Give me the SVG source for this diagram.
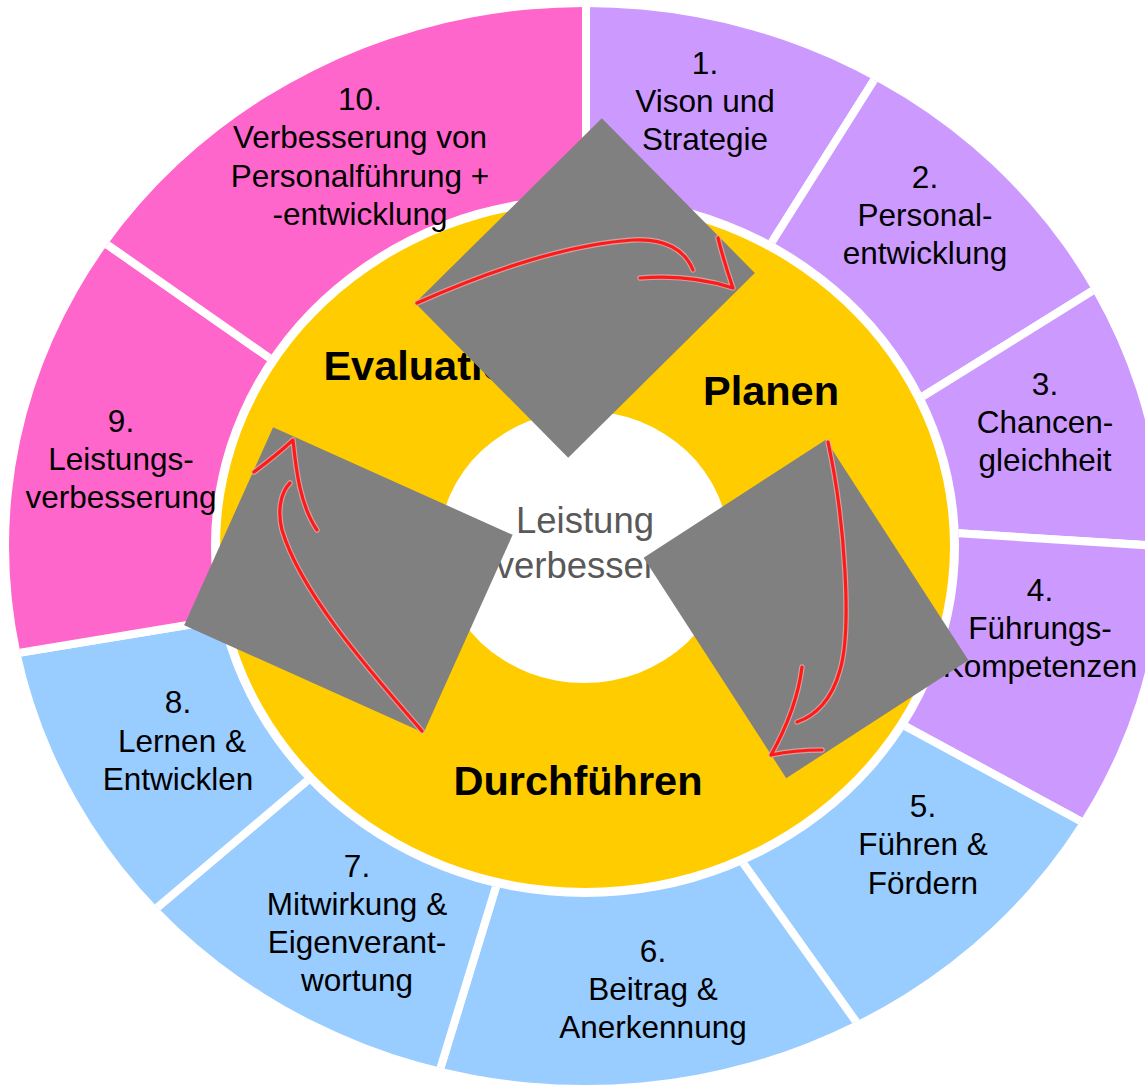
<svg xmlns="http://www.w3.org/2000/svg" width="1145" height="1085" viewBox="0 0 1145 1085">
<style>
.lbl{font-family:"Liberation Sans",Arial,sans-serif;font-size:31.5px;fill:#000;text-anchor:middle}
.phase{font-family:"Liberation Sans",Arial,sans-serif;font-size:41.5px;font-weight:bold;fill:#000}
.core{font-family:"Liberation Sans",Arial,sans-serif;font-size:36.5px;fill:#595959;text-anchor:middle}
.seg{stroke:#fff;stroke-width:8;stroke-linejoin:miter}
.purple{fill:#CC99FF}
.blue{fill:#99CCFF}
.pink{fill:#FF66CC}
.card{fill:#808080}
.halo{fill:none;stroke:#e7a9a9;stroke-width:5.5;stroke-linecap:round;stroke-linejoin:round;stroke-opacity:0.8}
.ink{fill:none;stroke:#ff1a1a;stroke-width:3.2;stroke-linecap:round;stroke-linejoin:round}
</style>
<defs>
<clipPath id="annulus">
<path clip-rule="evenodd" d="M9,546 A576,539 0 1 1 1161,546 A576,539 0 1 1 9,546 Z M211,546 A374,351 0 1 0 959,546 A374,351 0 1 0 211,546 Z"/>
</clipPath>
</defs>
<rect width="1145" height="1085" fill="#fff"/>

<g id="seg-1">
<polygon class="seg purple" clip-path="url(#annulus)" points="585,546 586,210 586,-30 922,-30 922,4 774.5,238"/>
<text class="lbl"><tspan x="705" y="74">1.</tspan><tspan x="705" y="112">Vison und</tspan><tspan x="705" y="150">Strategie</tspan></text>
</g>
<g id="seg-2">
<polygon class="seg purple" clip-path="url(#annulus)" points="585,546 774.5,238 922,4 1200,-30 1174,240 922,397"/>
<text class="lbl"><tspan x="925" y="188">2.</tspan><tspan x="925" y="226">Personal-</tspan><tspan x="925" y="264">entwicklung</tspan></text>
</g>
<g id="seg-3">
<polygon class="seg purple" clip-path="url(#annulus)" points="585,546 922,397 1174,240 1190,548 955,533"/>
<text class="lbl"><tspan x="1045" y="395">3.</tspan><tspan x="1045" y="433">Chancen-</tspan><tspan x="1045" y="471">gleichheit</tspan></text>
</g>
<g id="seg-4">
<polygon class="seg purple" clip-path="url(#annulus)" points="585,546 955,533 1190,548 1189,880 903,725"/>
<text class="lbl"><tspan x="1040" y="601">4.</tspan><tspan x="1040" y="639">Führungs-</tspan><tspan x="1040" y="677">Kompetenzen</tspan></text>
</g>
<g id="seg-5">
<polygon class="seg blue" clip-path="url(#annulus)" points="585,546 903,725 1189,880 1189,1106 916,1106 743,863"/>
<text class="lbl"><tspan x="923" y="817">5.</tspan><tspan x="923" y="855">Führen &amp;</tspan><tspan x="923" y="894">Fördern</tspan></text>
</g>
<g id="seg-6">
<polygon class="seg blue" clip-path="url(#annulus)" points="585,546 743,863 916,1106 423,1125 495.6,888"/>
<text class="lbl"><tspan x="653" y="962">6.</tspan><tspan x="653" y="1000">Beitrag &amp;</tspan><tspan x="653" y="1038">Anerkennung</tspan></text>
</g>
<g id="seg-7">
<polygon class="seg blue" clip-path="url(#annulus)" points="585,546 495.6,888 423,1125 81,1125 81,972 308,780"/>
<text class="lbl"><tspan x="357" y="877">7.</tspan><tspan x="357" y="915">Mitwirkung &amp;</tspan><tspan x="357" y="953">Eigenverant-</tspan><tspan x="357" y="991">wortung</tspan></text>
</g>
<g id="seg-8">
<polygon class="seg blue" clip-path="url(#annulus)" points="585,546 308,780 81,972 -30,972 -30,661 187.5,625"/>
<text class="lbl"><tspan x="178" y="713">8.</tspan><tspan x="182" y="752">Lernen &amp;</tspan><tspan x="178" y="790">Entwicklen</tspan></text>
</g>
<g id="seg-9">
<polygon class="seg pink" clip-path="url(#annulus)" points="585,546 187.5,625 -30,661 -30,192 32,192 268,357"/>
<text class="lbl"><tspan x="121" y="432">9.</tspan><tspan x="121" y="470">Leistungs-</tspan><tspan x="121" y="508">verbesserung</tspan></text>
</g>
<g id="seg-10">
<polygon class="seg pink" clip-path="url(#annulus)" points="585,546 268,357 32,192 32,-30 586,-30 586,210"/>
<text class="lbl"><tspan x="360" y="110">10.</tspan><tspan x="360" y="148">Verbesserung von</tspan><tspan x="360" y="186.5">Personalführung +</tspan><tspan x="360" y="225">-entwicklung</tspan></text>
</g>

<g id="phase-ring">
<ellipse cx="585" cy="546" rx="365" ry="342" fill="#FFCC00"/>
</g>
<g id="phase-planen"><text class="phase" x="771" y="405" text-anchor="middle">Planen</text></g>
<g id="phase-durchfuehren"><text class="phase" x="578" y="795" text-anchor="middle">Durchführen</text></g>
<g id="phase-evaluation"><text class="phase" x="323.4" y="380">Evaluation</text></g>
<g id="core">
<ellipse cx="584" cy="547" rx="145" ry="136" fill="#fff"/>
<text class="core"><tspan x="585" y="533">Leistung</tspan><tspan x="586" y="578">verbessern</tspan></text>
</g>

<g id="connectors">
<g id="arrow-top">
<rect class="card" x="-131.3" y="-108.8" width="262.6" height="217.6" transform="translate(585,288) rotate(-44.7)"/>
<path class="halo" d="M417,303 C480,275 560,245 633,240 C665,238 685,250 693,270 M640,278 Q690,274 733,288 M718,238 Q724,262 733,288"/>
<path class="ink" d="M417,303 C480,275 560,245 633,240 C665,238 685,250 693,270 M640,278 Q690,274 733,288 M718,238 Q724,262 733,288"/>
</g>
<g id="arrow-left">
<rect class="card" x="-131.3" y="-108.5" width="262.6" height="217" transform="translate(348.4,580) rotate(24.2)"/>
<path class="halo" d="M422,731 C360,660 300,590 282,530 C277,510 281,492 290,483 M293,440 C296,470 300,505 317,530 M293,440 C280,452 266,463 254,472"/>
<path class="ink" d="M422,731 C360,660 300,590 282,530 C277,510 281,492 290,483 M293,440 C296,470 300,505 317,530 M293,440 C280,452 266,463 254,472"/>
</g>
<g id="arrow-right">
<rect class="card" x="-131.3" y="-108.5" width="262.6" height="217" transform="translate(806,609) rotate(57.1)"/>
<path class="halo" d="M828,442 C845,520 852,630 840,670 C832,700 815,716 797,722 M802,667 C798,700 785,730 771,755 M771,755 Q795,750 822,750"/>
<path class="ink" d="M828,442 C845,520 852,630 840,670 C832,700 815,716 797,722 M802,667 C798,700 785,730 771,755 M771,755 Q795,750 822,750"/>
</g>
</g>
</svg>
